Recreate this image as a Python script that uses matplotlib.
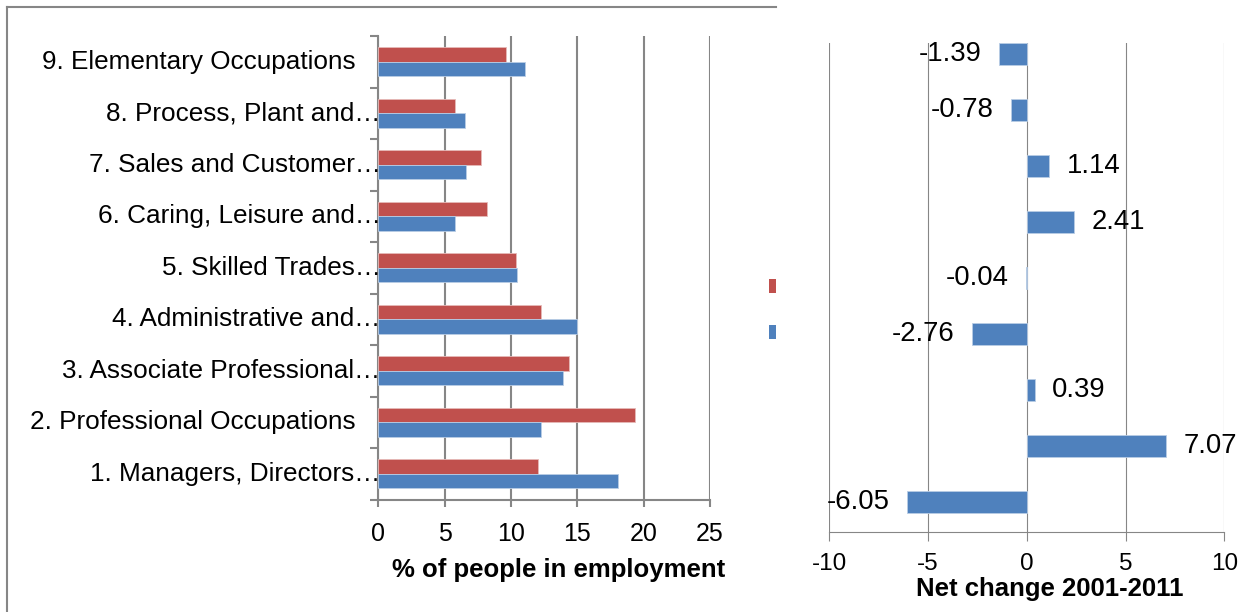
import matplotlib
matplotlib.use("Agg")
import matplotlib.pyplot as plt
import matplotlib.transforms as mtrans
from matplotlib.patches import Rectangle
from matplotlib.lines import Line2D
import numpy as np

plt.rcParams['font.family'] = ['Liberation Sans', 'DejaVu Sans']

# ---- data (bottom to top) ----
categories = [
    "1. Managers, Directors…",
    "2. Professional Occupations",
    "3. Associate Professional…",
    "4. Administrative and…",
    "5. Skilled Trades…",
    "6. Caring, Leisure and…",
    "7. Sales and Customer…",
    "8. Process, Plant and…",
    "9. Elementary Occupations",
]
share_2011 = [12.00, 19.33, 14.34, 12.24, 10.38, 8.18, 7.74, 5.77, 9.66]   # red
share_2001 = [18.05, 12.26, 13.95, 15.00, 10.42, 5.77, 6.60, 6.55, 11.05]  # blue
net_change = [-6.05, 7.07, 0.39, -2.76, -0.04, 2.41, 1.14, -0.78, -1.39]
left_xticks = [0, 5, 10, 15, 20, 25]
right_xticks = [-10, -5, 0, 5, 10]

RED = "#C0504D"
BLUE = "#4F81BD"
GRID = "#868686"
W, H = 1250, 612

fig = plt.figure(figsize=(12.5, 6.12), dpi=100)

def fx(px):
    return px / W

def fy(py):
    return 1 - py / H

# ---------------- left chart ----------------
l0, r0, t0, b0 = 378.3, 710.0, 36.0, 499.5
axL = fig.add_axes([fx(l0), fy(b0), fx(r0 - l0), (b0 - t0) / H])
y = np.arange(len(categories))
h = 0.28
axL.barh(y + h / 2, share_2011, height=h, color=RED, edgecolor="#e6b9b8",
         linewidth=0.6, zorder=3)
axL.barh(y - h / 2, share_2001, height=h, color=BLUE, edgecolor="#b9cde5",
         linewidth=0.6, zorder=3)
axL.set_xlim(0, 25)
axL.set_ylim(-0.5, len(categories) - 0.5)
axL.set_xticks(left_xticks)
axL.set_xticklabels([str(v) for v in left_xticks], fontsize=18)
axL.xaxis.grid(True, color=GRID, linewidth=1.5, zorder=0)
axL.set_axisbelow(True)
for s in ["top", "right"]:
    axL.spines[s].set_visible(False)
for s in ["left", "bottom"]:
    axL.spines[s].set_color(GRID)
    axL.spines[s].set_linewidth(1.5)
axL.tick_params(axis="x", direction="out", length=5, width=1.5, color=GRID, pad=11)
axL.set_yticks(np.arange(-0.5, len(categories), 1.0))
axL.set_yticklabels([])
axL.tick_params(axis="y", direction="out", length=6, width=1.5, color=GRID)

base = axL.get_yaxis_transform()
for i, lab in enumerate(categories):
    off = 1.5 if lab.endswith("…") else -16.5
    tr = mtrans.offset_copy(base, fig=fig, x=off, y=0, units="points")
    axL.text(0, i, lab, transform=tr, ha="right", va="center", fontsize=18.8)

axL.set_xlabel("% of people in employment", fontsize=18.5, fontweight="bold")
axL.xaxis.set_label_coords((558.5 - l0) / (r0 - l0), (b0 - 570) / (b0 - t0))
axL.xaxis.label.set_va("center")

# chart frame of left chart
fig.add_artist(Line2D([fx(6.5), fx(776)], [fy(7), fy(7)], color=GRID, lw=1.5))
fig.add_artist(Line2D([fx(6.5), fx(6.5)], [fy(7), fy(612)], color=GRID, lw=1.5))
# clipped legend keys
fig.add_artist(Rectangle((fx(769), fy(293)), fx(7), 14 / H, color=RED, lw=0))
fig.add_artist(Rectangle((fx(769), fy(339)), fx(7), 14 / H, color=BLUE, lw=0))

# ---------------- right chart ----------------
l1, r1, t1, b1 = 829.3, 1224.3, 43.0, 531.7
axR = fig.add_axes([fx(l1), fy(b1), fx(r1 - l1), (b1 - t1) / H])
axR.barh(y, net_change, height=0.385, color=BLUE, edgecolor="#b9cde5",
         linewidth=0.6, zorder=3)
axR.set_xlim(-10, 10)
axR.set_ylim(-0.526, 8.196)
axR.set_xticks(right_xticks)
axR.set_xticklabels([str(v) for v in right_xticks], fontsize=17.5)
axR.xaxis.grid(True, color=GRID, linewidth=0.8, zorder=0)
axR.set_axisbelow(True)
axR.set_yticks([])
for s in ["top", "right", "left"]:
    axR.spines[s].set_visible(False)
axR.spines["bottom"].set_color(GRID)
axR.spines["bottom"].set_linewidth(0.8)
axR.tick_params(axis="x", direction="out", length=6.3, width=0.8, color=GRID, pad=9)
for i, v in enumerate(net_change):
    axR.annotate(f"{v:.2f}", xy=(v, i), xytext=(12.5 if v >= 0 else -12.5, 0),
                 textcoords="offset points", ha="left" if v >= 0 else "right",
                 va="center", fontsize=19.8, zorder=4)
axR.set_xlabel("Net change 2001-2011", fontsize=18.5, fontweight="bold")
axR.xaxis.set_label_coords((1050 - l1) / (r1 - l1), (b1 - 589) / (b1 - t1))
axR.xaxis.label.set_va("center")

fig.savefig("out.png", dpi=100)
